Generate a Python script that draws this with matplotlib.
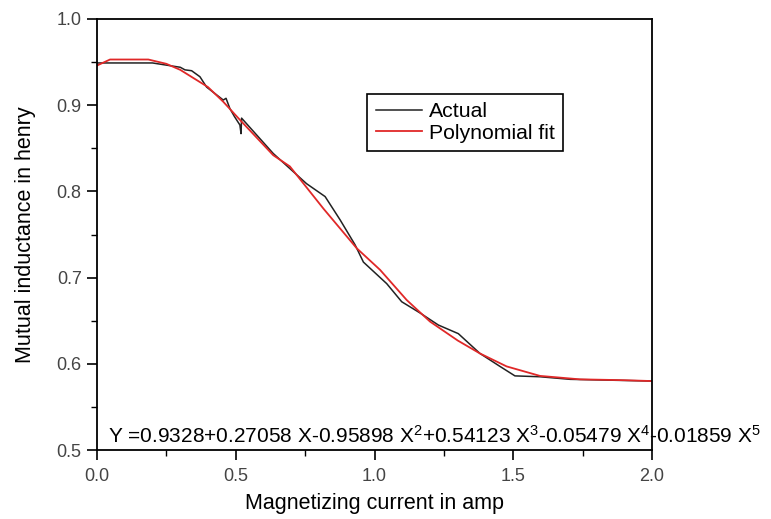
import matplotlib
matplotlib.use("Agg")
import matplotlib.pyplot as plt
from matplotlib.ticker import MultipleLocator

plt.rcParams['font.family'] = ['Liberation Sans', 'DejaVu Sans']
plt.rcParams['mathtext.fontset'] = 'custom'
plt.rcParams['mathtext.rm'] = 'Liberation Sans'
plt.rcParams['mathtext.it'] = 'Liberation Sans'

# Measured data (black)
actual_x = [0.0, 0.2, 0.30, 0.317, 0.341, 0.371, 0.395, 0.455, 0.465, 0.479, 0.495,
            0.515, 0.519, 0.521, 0.635, 0.755, 0.822, 0.876, 0.930, 0.960, 1.044,
            1.098, 1.164, 1.230, 1.302, 1.380, 1.452, 1.506, 1.596, 1.705, 2.0]
actual_y = [0.949, 0.949, 0.944, 0.941, 0.940, 0.933, 0.921, 0.906, 0.908, 0.896, 0.887,
            0.877, 0.867, 0.885, 0.844, 0.809, 0.794, 0.767, 0.738, 0.718, 0.693,
            0.672, 0.659, 0.645, 0.635, 0.612, 0.597, 0.586, 0.585, 0.582, 0.580]

# Polynomial fit (red)
fit_x = [0.0, 0.047, 0.185, 0.25, 0.30, 0.40, 0.455, 0.515, 0.635, 0.695, 0.816,
         0.936, 1.02, 1.116, 1.2, 1.3, 1.38, 1.476, 1.596, 1.74, 1.9, 2.0]
fit_y = [0.946, 0.953, 0.953, 0.948, 0.941, 0.921, 0.904, 0.883, 0.842, 0.829, 0.780,
         0.734, 0.709, 0.674, 0.649, 0.627, 0.612, 0.597, 0.586, 0.582, 0.581, 0.580]

equation = ("Y =0.9328+0.27058 X-0.95898 X$^2$+0.54123 X$^3$"
            "-0.05479 X$^4$-0.01859 X$^5$")

fig = plt.figure(figsize=(7.71, 5.19), dpi=100)
ax = fig.add_axes([0.1258, 0.1329, 0.7199, 0.8305])

ax.plot(actual_x, actual_y, color='#222222', lw=1.1, label='Actual')
ax.plot(fit_x, fit_y, color='#e02828', lw=1.3, label='Polynomial fit')

ax.set_xlim(0, 2.0)
ax.set_ylim(0.5, 1.0)
ax.xaxis.set_major_locator(MultipleLocator(0.5))
ax.xaxis.set_minor_locator(MultipleLocator(0.25))
ax.yaxis.set_major_locator(MultipleLocator(0.1))
ax.yaxis.set_minor_locator(MultipleLocator(0.05))
ax.tick_params(which='major', direction='out', length=7, width=1.2,
               labelsize=13, labelcolor='#444444', pad=4)
ax.tick_params(axis='x', which='major', pad=6)
ax.tick_params(which='minor', direction='out', length=4, width=1.0)
for s in ax.spines.values():
    s.set_linewidth(1.3)

ax.set_xlabel("Magnetizing current in amp", fontsize=15.5, labelpad=6)
ax.set_ylabel("Mutual inductance in henry", fontsize=15.5, labelpad=15)

leg = ax.legend(loc='upper left', bbox_to_anchor=(0.4865, 0.826), fontsize=15.3,
                frameon=True, fancybox=False, framealpha=1, edgecolor='black',
                handlelength=2.2, borderpad=0.4, labelspacing=0.1,
                handletextpad=0.3, borderaxespad=0)
leg.get_frame().set_linewidth(1.2)

ax.text(0.02, 0.016, equation, transform=ax.transAxes, fontsize=15,
        ha='left', va='baseline', clip_on=False)

fig.savefig("out.png", dpi=100)
